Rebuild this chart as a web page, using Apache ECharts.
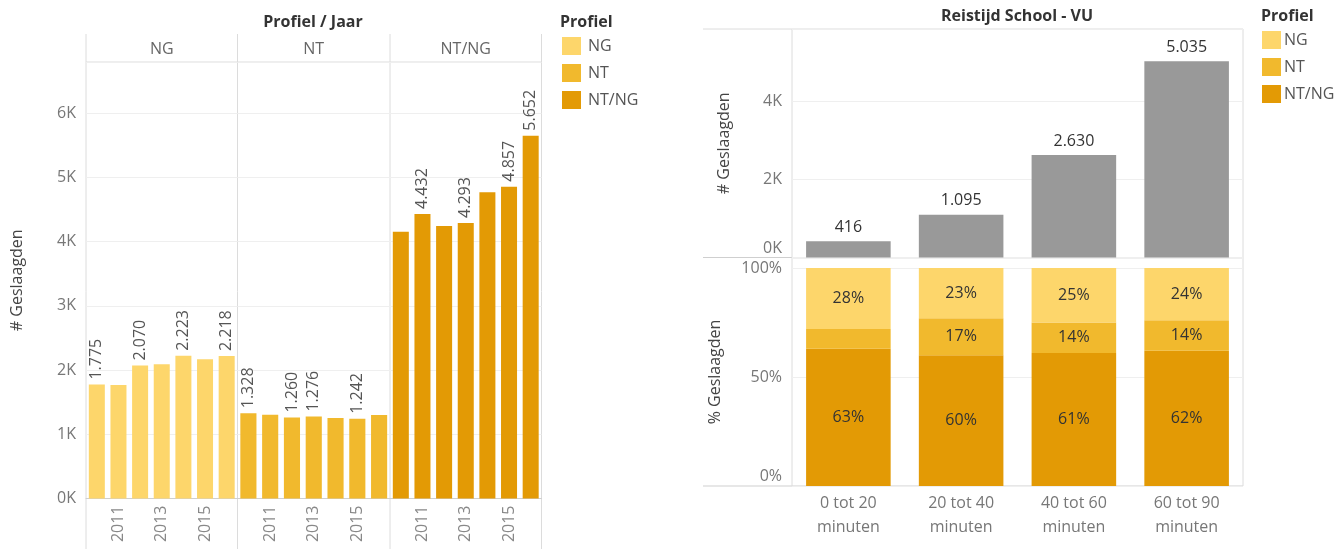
<!DOCTYPE html>
<html><head><meta charset="utf-8">
<script src="https://cdn.jsdelivr.net/npm/echarts@6/dist/echarts.min.js"></script>
<style>html,body{margin:0;padding:0;background:#fff}#c{width:1339px;height:549px}</style>
</head><body><div id="c"></div>
<script>
// ---- data ----
const years = ['2010','2011','2012','2013','2014','2015','2016'];
const profiles = ['NG','NT','NT/NG'];
const ngValues   = [1775,1770,2070,2092,2223,2168,2218];
const ntValues   = [1328,1305,1260,1276,1255,1242,1300];
const ntngValues = [4155,4432,4245,4293,4770,4857,5652];
const ngLabelled   = [0,2,4,6];
const ntLabelled   = [0,2,3,5];
const ntngLabelled = [1,3,5,6];
const travelCats = ['0 tot 20\nminuten','20 tot 40\nminuten','40 tot 60\nminuten','60 tot 90\nminuten'];
const travelTotals = [416,1095,2630,5035];
const pctNG   = [28,23,25,24];
const pctNT   = [9,17,14,14];
const pctNTNG = [63,60,61,62];
const pctNTLabelled = [1,2,3];
const colors = {NG:'#FDD66B', NT:'#F1B92D', 'NT/NG':'#E39A05', total:'#999999'};

// ---- helpers ----
const FONT = 'Open Sans';
const fmtNL = v => String(v).replace(/\B(?=(\d{3})+(?!\d))/g, '.');
const kFmt = v => (v % 1000 === 0 ? (v/1000) + 'K' : '');
const line = (x1,y1,x2,y2,c) => ({type:'line', silent:true, shape:{x1,y1,x2,y2}, style:{stroke:c||'#dcdcdc', lineWidth:1}});
const txt = (x,y,t,o) => ({type:'text', silent:true, x, y, style:Object.assign({text:t, fontFamily:FONT, fontSize:16, fill:'#666', align:'center', verticalAlign:'middle'}, o||{})});

const panelX = [86, 237.5, 390, 541.5];
const leftSets = [
  {name:'NG', vals:ngValues, lab:ngLabelled},
  {name:'NT', vals:ntValues, lab:ntLabelled},
  {name:'NT/NG', vals:ntngValues, lab:ntngLabelled}
];

const grid = [], xAxis = [], yAxis = [], series = [];
leftSets.forEach((s, i) => {
  grid.push({left:panelX[i], top:62, width:panelX[i+1]-panelX[i], height:436.5});
  xAxis.push({type:'category', gridIndex:i, data:years,
    axisTick:{show:false}, axisLine:{show:true, lineStyle:{color:'#cfcfcf'}},
    axisLabel:{interval:(idx)=>idx % 2 === 1, rotate:90, color:'#888', fontSize:16, fontFamily:FONT, margin:7}});
  yAxis.push({type:'value', gridIndex:i, min:0, max:6800, interval:1000,
    name: i===0 ? '# Geslaagden' : '', nameLocation:'middle', nameGap:61,
    nameTextStyle:{color:'#444', fontSize:16, fontFamily:FONT},
    axisLine:{show:false}, axisTick:{show:false},
    splitLine:{lineStyle:{color:'#efefef'}},
    axisLabel:{show:i===0, showMaxLabel:false, formatter:kFmt, color:'#777', fontSize:16, fontFamily:FONT, margin:10}});
  series.push({type:'bar', name:s.name, xAxisIndex:i, yAxisIndex:i, barCategoryGap:'26%',
    itemStyle:{color:colors[s.name]},
    data:s.vals.map((v, j) => ({value:v, label:{show:s.lab.includes(j)}})),
    label:{position:'top', rotate:90, align:'left', verticalAlign:'middle', distance:5,
      formatter:p=>fmtNL(p.value), color:'#555', fontSize:16, fontFamily:FONT}});
});

// right: totals
grid.push({left:792, top:29, width:451, height:228.5});
xAxis.push({type:'category', gridIndex:3, data:travelCats, axisTick:{show:false}, axisLine:{show:false}, axisLabel:{show:false}});
yAxis.push({type:'value', gridIndex:3, min:0, max:5860, interval:2000,
  name:'# Geslaagden', nameLocation:'middle', nameGap:60,
  nameTextStyle:{color:'#444', fontSize:16, fontFamily:FONT},
  axisLine:{show:false}, axisTick:{show:false}, splitLine:{lineStyle:{color:'#efefef'}},
  axisLabel:{showMaxLabel:false, color:'#777', fontSize:16, fontFamily:FONT, margin:10,
    formatter:v => v === 0 ? '{lo|0K}' : kFmt(v),
    rich:{lo:{color:'#777', fontSize:16, fontFamily:FONT, padding:[0,0,19,0]}}}});
series.push({type:'bar', name:'Totaal', xAxisIndex:3, yAxisIndex:3, barCategoryGap:'25%',
  itemStyle:{color:colors.total}, data:travelTotals,
  label:{show:true, position:'top', distance:6, formatter:p=>fmtNL(p.value), color:'#333', fontSize:16, fontFamily:FONT}});

// right: percentages
grid.push({left:792, top:258, width:451, height:228});
xAxis.push({type:'category', gridIndex:4, data:travelCats, axisTick:{show:false}, axisLine:{show:false},
  axisLabel:{color:'#777', fontSize:16, fontFamily:FONT, lineHeight:24, margin:5}});
yAxis.push({type:'value', gridIndex:4, min:0, max:104.6, interval:50,
  name:'% Geslaagden', nameLocation:'middle', nameGap:69,
  nameTextStyle:{color:'#444', fontSize:16, fontFamily:FONT},
  axisLine:{show:false}, axisTick:{show:false}, splitLine:{lineStyle:{color:'#efefef'}},
  axisLabel:{showMaxLabel:false, color:'#777', fontSize:16, fontFamily:FONT, margin:10,
    formatter:v => v === 0 ? '{lo|0%}' : (v % 50 === 0 ? v + '%' : ''),
    rich:{lo:{color:'#777', fontSize:16, fontFamily:FONT, padding:[0,0,20,0]}}}});
const pctSets = [
  {name:'NT/NG', vals:pctNTNG, lab:[0,1,2,3]},
  {name:'NT', vals:pctNT, lab:pctNTLabelled},
  {name:'NG', vals:pctNG, lab:[0,1,2,3]}
];
pctSets.forEach(s => {
  series.push({type:'bar', name:s.name, stack:'pct', xAxisIndex:4, yAxisIndex:4, barCategoryGap:'25%',
    itemStyle:{color:colors[s.name]},
    data:s.vals.map((v, j) => ({value:v, label:{show:s.lab.includes(j)}})),
    label:{position:'inside', formatter:'{c}%', color:'#333', fontSize:16, fontFamily:FONT}});
});

const graphic = [
  txt(313, 22, 'Profiel / Jaar', {fontWeight:'bold', fill:'#333'}),
  txt((panelX[0]+panelX[1])/2, 49, 'NG'),
  txt((panelX[1]+panelX[2])/2, 49, 'NT'),
  txt((panelX[2]+panelX[3])/2, 49, 'NT/NG'),
  line(panelX[0], 62, panelX[3], 62),
  ...panelX.map(x => line(x, 34, x, 549)),
  txt(560, 22, 'Profiel', {fontWeight:'bold', fill:'#333', align:'left'}),
  txt(1017, 16, 'Reistijd School - VU', {fontWeight:'bold', fill:'#333'}),
  txt(1261, 16.5, 'Profiel', {fontWeight:'bold', fill:'#333', align:'left'}),
  line(703, 29, 1243, 29),
  line(703, 257.5, 1243, 257.5, '#cfcfcf'),
  line(703, 486, 1243, 486, '#cfcfcf'),
  line(792, 29, 792, 486),
  line(1243, 29, 1243, 486)
];

const legendBase = {data:profiles, orient:'vertical', icon:'rect', itemWidth:19, itemHeight:18, itemGap:9,
  selectedMode:false, padding:0};

const chart = echarts.init(document.getElementById('c'));
chart.setOption({
  animation:false,
  textStyle:{fontFamily:FONT},
  legend:[
    Object.assign({left:562, top:37, textStyle:{fontSize:16, color:'#555', fontFamily:FONT, padding:[0,0,0,2]}}, legendBase),
    Object.assign({left:1262, top:31, textStyle:{fontSize:16, color:'#555', fontFamily:FONT, padding:[0,0,0,-2]}}, legendBase)
  ],
  grid, xAxis, yAxis, series, graphic
});
</script></body></html>
